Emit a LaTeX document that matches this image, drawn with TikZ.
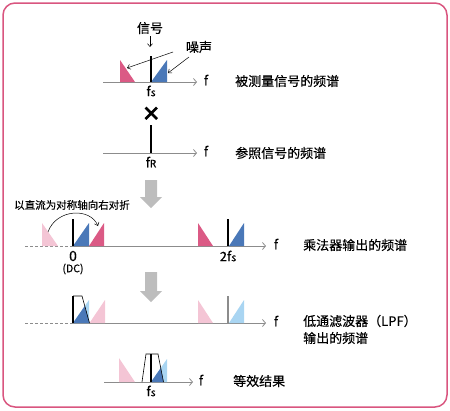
\documentclass[tikz,border=0pt]{standalone}
\usepackage{fontspec}
\setmainfont{Noto Sans CJK SC}[FakeBold=0.3]
\usetikzlibrary{arrows.meta}
\definecolor{bordpink}{HTML}{D9557F}
\definecolor{dpink}{HTML}{DB5A85}
\definecolor{lpink}{HTML}{F4C5D5}
\definecolor{dblue}{HTML}{4A78B8}
\definecolor{lblue}{HTML}{A9D5F2}
\definecolor{axgray}{HTML}{8C8C8C}
\definecolor{arrgray}{HTML}{BDBDBD}
\begin{document}
\begin{tikzpicture}[x=1pt,y=-1pt,
  axis/.style={axgray, line width=0.8pt, -{Straight Barb[length=3pt,width=7pt]}},
  dashaxis/.style={axgray, line width=0.8pt, dash pattern=on 3pt off 2pt},
  sigline/.style={black, line width=2.4pt},
  thinsig/.style={black, line width=1.8pt},
  lbl/.style={font=\fontsize{13}{14}\selectfont, inner sep=0pt},
  small/.style={font=\fontsize{10.5}{12}\selectfont, inner sep=0pt},
  note/.style={black, line width=0.5pt, -{Straight Barb[length=3pt,width=5pt]}},
  blockarrow/.style={fill=arrgray, draw=none},
  filt/.style={black, line width=0.6pt}]
\useasboundingbox (0,0) rectangle (450,410);
\draw[bordpink, line width=1.5pt, rounded corners=12pt] (3,3) rectangle (447,407);

% ---------- Row 1: measured signal ----------
\draw[axis] (103,82) -- (197,82);
\fill[dpink] (120,82) -- (120,60) -- (135,82) -- cycle;
\fill[dblue] (151,82) -- (167,60) -- (167,82) -- cycle;
\draw[sigline] (151,56) -- (151,82);
\node[lbl] (f1) at (206,80) {f};
\node[lbl] (fs1) at (151,91) {f{\fontsize{10.5}{10}\selectfont s}};
\node[lbl] (sig) at (150,28) {信号};
\coordinate (sigtip) at (150,47);
\draw[note] (sig.south) ++(0,2) -- (sigtip);
\node[lbl] (noise) at (199,47) {噪声};
\coordinate (n1a) at (173,52);
\coordinate (n1b) at (127,68);
\coordinate (n2a) at (189,57);
\coordinate (n2b) at (168,73);
\draw[note] (n1a) -- (n1b);
\draw[note] (n2a) -- (n2b);
\node[lbl, anchor=west] (t1) at (235,81) {被测量信号的频谱};

% cross
\draw[black, line width=2.6pt] (145.5,107.5) -- (157,119) (145.5,119) -- (157,107.5);

% ---------- Row 2: reference ----------
\draw[axis] (103,153) -- (197,153);
\draw[sigline] (151,125) -- (151,153);
\node[lbl] (f2) at (206,151) {f};
\node[lbl] (fr) at (151,162) {f{\fontsize{10}{10}\selectfont R}};
\node[lbl, anchor=west] (t2) at (235,153) {参照信号的频谱};

% block arrow 1
\path[blockarrow] (145,180) -- (157,180) -- (157,197) -- (162,197) -- (151,208) -- (140,197) -- (145,197) -- cycle;

% ---------- Row 3: multiplier output ----------
\draw[dashaxis] (25,246) -- (73,246);
\draw[axis] (73,246) -- (266,246);
\fill[lpink] (42,246) -- (42,223) -- (58,246) -- cycle;
\fill[dblue] (73,246) -- (89,223) -- (89,246) -- cycle;
\fill[dpink] (89,246) -- (104,223) -- (104,246) -- cycle;
\draw[thinsig] (73,219) -- (73,246);
\coordinate (arcs) at (48,232);
\coordinate (arce) at (98,226);
\draw[note] (arcs) .. controls (56,209) and (90,207) .. (arce);
\node[small] (fold) at (72,205) {以直流为对称轴向右对折};
\fill[dpink] (198,246) -- (198,223) -- (213,246) -- cycle;
\fill[dblue] (229,246) -- (244,223) -- (244,246) -- cycle;
\draw[thinsig] (228,219) -- (228,246);
\node[lbl, font=\fontsize{14}{14}\selectfont] (zero) at (73,256) {0};
\node[small] (dc) at (73,269) {(DC)};
\node[lbl] (tfs) at (228,256) {2f{\fontsize{10.5}{10}\selectfont s}};
\node[lbl] (f3) at (276,244) {f};
\node[lbl, anchor=west] (t3) at (303,245) {乘法器输出的频谱};

% block arrow 2
\path[blockarrow] (145,272) -- (157,272) -- (157,291) -- (162,291) -- (151,302) -- (140,291) -- (145,291) -- cycle;

% ---------- Row 4: LPF output ----------
\draw[dashaxis] (25,323) -- (73,323);
\draw[axis] (73,323) -- (266,323);
\fill[lblue] (73,323) -- (89,300) -- (89,323) -- cycle;
\begin{scope}
  \clip (73,296) -- (82,296) -- (89.5,323) -- (73,323) -- cycle;
  \fill[dblue] (73,323) -- (89,300) -- (89,323) -- cycle;
\end{scope}
\fill[lpink] (89.5,323) -- (105,300) -- (105,323) -- cycle;
\draw[filt] (73,296) -- (82,296) -- (89.5,323);
\draw[thinsig] (73,295.5) -- (73,323);
\fill[lpink] (198,323) -- (198,300) -- (213,323) -- cycle;
\fill[lblue] (229,323) -- (244,300) -- (244,323) -- cycle;
\draw[axgray, line width=1.8pt] (228,296) -- (228,323);
\node[lbl] (f4) at (276,321) {f};
\node[lbl, anchor=west] (t4a) at (303,321) {低通滤波器（LPF）};
\node[lbl, anchor=west] (t4b) at (303,338) {输出的频谱};

% ---------- Row 5: equivalent ----------
\draw[axis] (104,382) -- (193,382);
\fill[lpink] (119,382) -- (119,358) -- (135,382) -- cycle;
\fill[lblue] (151,382) -- (167,359) -- (167,382) -- cycle;
\begin{scope}
  \clip (142,382) -- (146,354) -- (158,354) -- (163.5,382) -- cycle;
  \fill[dblue] (151,382) -- (167,359) -- (167,382) -- cycle;
\end{scope}
\draw[filt] (142,382) -- (146,354) -- (158,354) -- (163.5,382);
\draw[sigline] (151,354) -- (151,382);
\node[lbl] (f5) at (201,380) {f};
\node[lbl] (fs5) at (151,391) {f{\fontsize{10.5}{10}\selectfont s}};
\node[lbl, anchor=west] (t5) at (233,381) {等效结果};
\end{tikzpicture}
\end{document}
